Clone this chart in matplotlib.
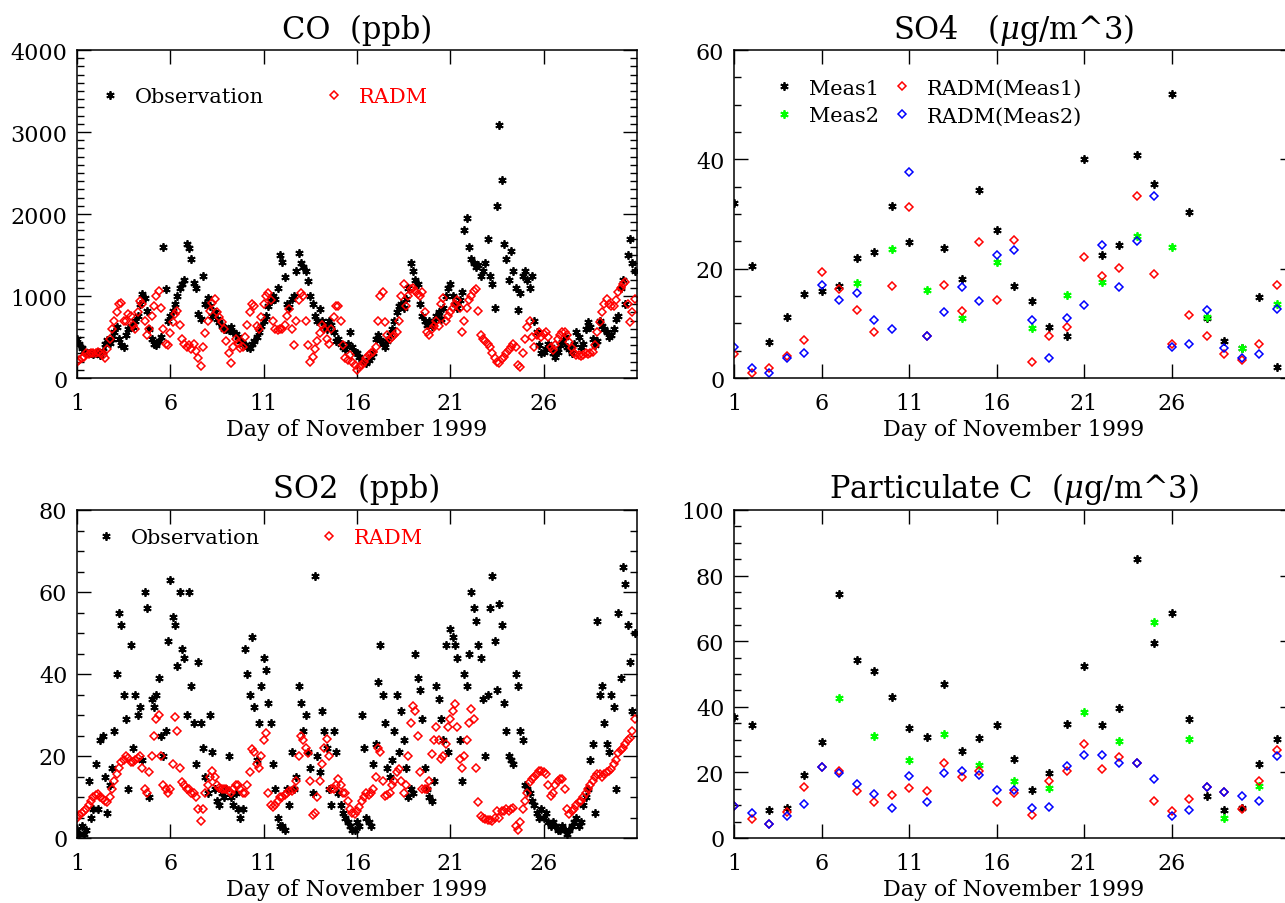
import numpy as np
import matplotlib
matplotlib.use('Agg')
from matplotlib import pyplot as plt
from matplotlib.ticker import MultipleLocator
from matplotlib.legend import Legend

plt.rcParams['font.family'] = ['DejaVu Serif']
plt.rcParams['mathtext.fontset'] = 'dejavuserif'

# hourly series sampled every 3 hours, Nov 1 00h .. Nov 30 21h
hours = np.arange(0, 720, 3)
hour_days = 1 + hours / 24

co_obs = [
    480, 420, 360, 330, 300, 300, 310, 290,
    300, 320, 280, 330, 420, 460, 430, 480,
    560, 620, 480, 400, 380, 520, 600, 640,
    620, 700, 760, 900, 1020, 980, 820, 600,
    480, 420, 400, 450, 500, 1600, 1080, 700,
    760, 820, 900, 1000, 1100, 1150, 1200, 1640,
    1580, 1450, 1160, 1100, 780, 720, 1250, 900,
    980, 880, 760, 800, 720, 680, 640, 600,
    600, 580, 620, 560, 540, 500, 450, 420,
    400, 380, 360, 420, 450, 500, 560, 640,
    700, 760, 880, 940, 1000, 960, 1100, 1500,
    1420, 1230, 900, 860, 960, 1000, 1300, 1530,
    1400, 1350, 1300, 1180, 1000, 900, 760, 700,
    840, 700, 640, 600, 700, 650, 560, 450,
    480, 420, 380, 350, 420, 560, 380, 320,
    300, 260, 220, 200, 180, 220, 260, 300,
    480, 520, 460, 420, 380, 450, 520, 600,
    700, 800, 880, 900, 850, 960, 1100, 1400,
    1300, 1200, 1150, 900, 760, 700, 650, 700,
    640, 700, 760, 800, 720, 850, 1000, 1100,
    1150, 1000, 900, 850, 950, 1050, 1800, 1950,
    1600, 1450, 1400, 1350, 1380, 1250, 1300, 1400,
    1700, 1250, 1150, 850, 2100, 3080, 2420, 1630,
    1450, 1200, 1550, 1300, 1100, 830, 1040, 1250,
    1300, 1200, 1100, 1250, 700, 560, 400, 300,
    320, 350, 420, 380, 300, 260, 320, 400,
    440, 500, 380, 350, 300, 420, 560, 500,
    380, 420, 600, 680, 620, 480, 400, 450,
    700, 640, 600, 560, 500, 520, 600, 720,
    760, 1100, 1200, 900, 1500, 1700, 1400, 1300,
]
co_radm = [
    200, 220, 240, 260, 300, 290, 310, 300,
    300, 320, 300, 280, 240, 350, 480, 600,
    700, 800, 900, 920, 700, 700, 780, 760,
    650, 600, 800, 940, 900, 700, 520, 600,
    760, 880, 1000, 1060, 850, 600, 420, 400,
    550, 680, 780, 820, 650, 480, 420, 380,
    400, 350, 420, 330, 250, 150, 380, 550,
    700, 820, 920, 960, 800, 740, 680, 600,
    450, 300, 180, 380, 470, 430, 360, 380,
    500, 650, 800, 900, 880, 640, 600, 750,
    900, 1000, 1040, 950, 700, 600, 580, 600,
    600, 650, 760, 840, 600, 400, 700, 950,
    1040, 1000, 700, 400, 200, 260, 350, 450,
    550, 650, 600, 480, 420, 600, 750, 880,
    880, 700, 400, 250, 220, 280, 200, 160,
    100, 130, 160, 200, 240, 280, 300, 320,
    380, 700, 1000, 1050, 680, 520, 480, 500,
    520, 560, 700, 1000, 1150, 880, 1000, 1080,
    1100, 1060, 1020, 1000, 1050, 800, 560, 520,
    600, 640, 700, 640, 900, 980, 700, 760,
    800, 850, 900, 950, 850, 560, 700, 850,
    950, 1000, 1060, 1085, 820, 520, 480, 450,
    420, 380, 300, 240, 200, 180, 230, 260,
    300, 340, 380, 420, 380, 160, 140, 300,
    480, 620, 700, 500, 380, 520, 560, 500,
    540, 560, 500, 380, 340, 400, 480, 520,
    560, 560, 520, 440, 360, 300, 280, 280,
    270, 280, 300, 290, 300, 320, 400, 560,
    680, 800, 900, 960, 900, 880, 880, 950,
    1050, 1100, 1150, 1170, 900, 680, 800, 960,
]
so2_obs = [
    2, 1, 3, 1, 2, 14, 5, 7,
    18, 7, 24, 25, 15, 6, 13, 17,
    26, 40, 55, 52, 35, 29, 12, 47,
    22, 35, 30, 32, 19, 60, 56, 10,
    34, 32, 35, 39, 25, 20, 26, 48,
    63, 54, 52, 42, 60, 46, 44, 30,
    60, 37, 28, 18, 43, 28, 22, 15,
    11, 30, 21, 12, 9, 8, 11, 10,
    12, 20, 10, 8, 11, 7, 5, 7,
    46, 40, 35, 49, 32, 19, 28, 37,
    44, 41, 33, 28, 18, 12, 5, 3,
    3, 2, 12, 8, 21, 12, 15, 37,
    33, 26, 30, 21, 17, 11, 64, 20,
    16, 31, 26, 22, 12, 8, 26, 21,
    11, 8, 6, 5, 4, 3, 2, 2,
    4, 3, 30, 22, 5, 4, 3, 18,
    23, 38, 47, 35, 28, 17, 15, 19,
    26, 35, 21, 31, 24, 17, 10, 12,
    11, 45, 39, 36, 29, 17, 12, 10,
    9, 14, 37, 34, 29, 24, 47, 21,
    51, 49, 47, 44, 24, 14, 40, 37,
    45, 60, 56, 53, 47, 44, 34, 20,
    35, 56, 64, 48, 36, 57, 52, 33,
    26, 20, 19, 18, 40, 37, 26, 24,
    13, 12, 11, 9, 8, 6, 5, 7,
    5, 6, 4, 3, 4, 3, 2, 2,
    3, 2, 1, 2, 3, 4, 5, 3,
    4, 8, 10, 12, 19, 23, 6, 53,
    35, 37, 28, 23, 21, 35, 32, 12,
    55, 39, 66, 62, 52, 43, 31, 50,
]
so2_radm = [
    5, 5.5, 6, 6.5, 7, 8, 9, 10,
    10.5, 10.7, 10, 9.5, 9, 8.8, 10, 12,
    14, 15.5, 17, 18.5, 19, 20, 19.5, 18.5,
    18.6, 19, 19.5, 20, 17, 12, 11, 16,
    20, 25, 29, 30, 20, 13, 12, 11,
    12, 18, 29.5, 26, 17, 13.6, 13, 12,
    12, 11, 11, 10, 7, 4.2, 7, 11,
    13, 15, 16.4, 15, 13, 12.3, 12, 12,
    12, 11.5, 11, 12, 13, 13, 12, 11,
    11, 13, 16, 21.6, 21, 18, 17, 20,
    24, 25.7, 11, 8, 7.5, 8, 9, 10,
    10, 10.5, 11, 11.5, 11.5, 12, 14, 20,
    24.8, 24, 22, 20.8, 14, 5.6, 6, 10,
    14, 18, 22, 24.2, 20, 12, 12, 13,
    14.4, 13, 11, 11, 9, 7, 6, 5.9,
    6.5, 7.5, 9, 10, 11, 10.5, 11, 12,
    15, 22, 21, 14, 10.2, 10.5, 11, 13,
    14, 16, 16.8, 14, 11, 13, 20, 28,
    32.3, 31, 25, 16, 12, 12, 12, 14,
    20.4, 24, 27, 24, 19.2, 20, 23, 27,
    29, 31, 32.7, 27, 19.2, 17, 20, 24,
    28, 31.5, 29, 17, 8.8, 5.3, 4.8, 4.6,
    4.5, 4.4, 4.2, 5, 6.7, 5, 6.5, 6.7,
    7, 6.7, 7, 7.2, 3, 2, 4, 7,
    9, 11, 13.6, 14.5, 15, 15.5, 16.4, 16.4,
    16, 15.5, 13, 10.2, 11, 13, 14, 14.4,
    14.4, 12, 7, 5.9, 6.5, 7, 8, 8.8,
    9, 10, 11, 12, 13, 14, 15, 15.6,
    15.6, 15, 15.5, 16, 16.4, 16.8, 18, 19,
    20.8, 21.5, 22, 23, 24, 24.5, 26, 29,
]

# daily filter samples
days = np.arange(1, 33)
so4_meas1 = [32.1, 20.5, 6.5, 11.2, 15.3, 16.0, 16.9, 22.0, 23.0, 31.5, 24.9, np.nan,
             23.7, 18.2, 34.3, 27.0, 16.9, 14.0, 9.3, 7.7, 40.0, 22.5, 24.3, 40.8,
             35.4, 52.0, 30.3, 11.0, 6.7, 5.4, 14.9, 2.1]
so4_meas2_days = [8, 10, 12, 14, 16, 18, 20, 22, 24, 26, 28, 30, 32]
so4_meas2 = [17.3, 23.6, 16.1, 10.9, 21.3, 9.1, 15.2, 17.6, 26.0, 23.9, 11.2, 5.4, 13.6]
so4_radm1 = [4.4, 1.0, 1.9, 4.1, 6.9, 19.4, 16.3, 12.5, 8.5, 16.9, 31.2, 7.6,
             17.0, 12.2, 24.8, 14.3, 25.2, 2.9, 7.6, 9.3, 22.2, 18.7, 20.2, 33.3,
             19.1, 6.2, 11.5, 7.6, 4.3, 3.3, 6.2, 17.0]
so4_radm2 = [5.7, 1.8, 1.0, 3.7, 4.5, 17.1, 14.3, 15.5, 10.7, 9.0, 37.6, 7.6,
             12.1, 16.6, 14.1, 22.5, 23.4, 10.7, 3.6, 10.9, 13.4, 24.3, 16.6, 25.1,
             33.3, 5.6, 6.2, 12.4, 5.4, 3.7, 4.3, 12.6]

pc_meas1 = [37.0, 34.5, 8.6, 9.1, 19.2, 29.3, 74.3, 54.3, 50.9, 43.0, 33.5, 30.7,
            47.1, 26.5, 30.5, 34.5, 24.1, 14.7, 19.7, 34.9, 52.3, 34.5, 39.5, 85.0,
            59.4, 68.5, 36.2, 12.7, 8.5, 9.1, 22.7, 30.2]
pc_meas2_days = [7, 9, 11, 13, 15, 17, 19, 21, 23, 25, 27, 29, 31]
pc_meas2 = [42.8, 31.0, 23.9, 31.6, 22.3, 17.5, 15.3, 38.5, 29.5, 66.0, 30.2, 6.2, 15.9]
pc_radm1 = [9.8, 5.8, 4.3, 8.0, 15.4, 21.5, 20.5, 14.4, 10.9, 13.1, 15.2, 14.2,
            23.0, 18.5, 20.5, 11.1, 13.6, 7.0, 17.4, 20.3, 28.6, 21.0, 24.8, 22.8,
            11.4, 8.1, 11.8, 15.7, 13.9, 8.8, 17.4, 26.9]
pc_radm2 = [9.8, 7.5, 4.3, 6.6, 10.3, 21.5, 19.7, 16.4, 13.4, 9.1, 18.8, 10.9,
            19.7, 20.5, 19.1, 14.6, 14.6, 9.1, 9.6, 21.9, 25.3, 25.3, 23.0, 22.8,
            17.9, 6.6, 8.6, 15.7, 13.9, 12.7, 11.2, 25.1]

day_ticks = [1, 6, 11, 16, 21, 26]
xlabel = 'Day of November 1999'

W, H = 1285, 904
fig = plt.figure(figsize=(W / 100, H / 100), dpi=100)


def axes_at(x0, y0, w, h):
    return fig.add_axes([x0 / W, 1 - (y0 + h) / H, w / W, h / H])


def style(ax, title, ymax, major, minor, xmax):
    ax.set_xlim(1, xmax)
    ax.set_ylim(0, ymax)
    ax.set_xticks(day_ticks)
    ax.set_yticks(np.arange(0, ymax + 1, major))
    ax.yaxis.set_minor_locator(MultipleLocator(minor))
    ax.tick_params(which='major', direction='in', top=True, right=True,
                   length=10, width=1, labelsize=16)
    ax.tick_params(axis='x', pad=10)
    ax.tick_params(axis='y', pad=7)
    ax.tick_params(which='minor', direction='in', right=True, length=5, width=1)
    ax.set_xlabel(xlabel, fontsize=16, labelpad=3)
    ax.set_title(title, fontsize=22, pad=9)
    for s in ax.spines.values():
        s.set_linewidth(1.1)


def add_key(ax, handle, label, x, y, color='black'):
    leg = Legend(ax, [handle], [label], loc='center left', bbox_to_anchor=(x, y),
                 frameon=False, handlelength=1.0, handletextpad=0.7,
                 borderpad=0, borderaxespad=0, fontsize=15, labelcolor=color)
    ax.add_artist(leg)


ast = (6, 2, 0)
obs_kw = dict(ls='none', marker=ast, ms=6, mew=1.3)
mod_kw = dict(ls='none', marker='D', ms=4.3, mfc='none', mew=1.1)

# CO
ax1 = axes_at(77, 51, 560, 328)
h_obs, = ax1.plot(hour_days, co_obs, color='black', **obs_kw)
h_mod, = ax1.plot(hour_days, co_radm, mec='red', **mod_kw)
style(ax1, 'CO  (ppb)', 4000, 1000, 100, 31)
add_key(ax1, h_obs, 'Observation', 0.040, 0.857)
add_key(ax1, h_mod, 'RADM', 0.44, 0.857, 'red')

# SO2
ax3 = axes_at(77, 511, 560, 328)
h_obs, = ax3.plot(hour_days, so2_obs, color='black', **obs_kw)
h_mod, = ax3.plot(hour_days, so2_radm, mec='red', **mod_kw)
style(ax3, 'SO2  (ppb)', 80, 20, 5, 31)
add_key(ax3, h_obs, 'Observation', 0.033, 0.915)
add_key(ax3, h_mod, 'RADM', 0.432, 0.915, 'red')

# SO4
ax2 = axes_at(734, 51, 560, 328)
h1, = ax2.plot(days, so4_meas1, color='black', **obs_kw)
h2, = ax2.plot(so4_meas2_days, so4_meas2, color='#00ff00', **obs_kw)
h3, = ax2.plot(days, so4_radm1, mec='red', **mod_kw)
h4, = ax2.plot(days, so4_radm2, mec='blue', **mod_kw)
style(ax2, r'SO4   ($\mu$g/m^3)', 60, 20, 5, 33)
add_key(ax2, h1, 'Meas1', 0.07, 0.884)
add_key(ax2, h2, 'Meas2', 0.07, 0.799)
add_key(ax2, h3, 'RADM(Meas1)', 0.281, 0.884)
add_key(ax2, h4, 'RADM(Meas2)', 0.281, 0.799)

# particulate carbon
ax4 = axes_at(734, 511, 560, 328)
ax4.plot(days, pc_meas1, color='black', **obs_kw)
ax4.plot(pc_meas2_days, pc_meas2, color='#00ff00', **obs_kw)
ax4.plot(days, pc_radm1, mec='red', **mod_kw)
ax4.plot(days, pc_radm2, mec='blue', **mod_kw)
style(ax4, r'Particulate C  ($\mu$g/m^3)', 100, 20, 5, 33)

fig.savefig('out.png', dpi=100)
